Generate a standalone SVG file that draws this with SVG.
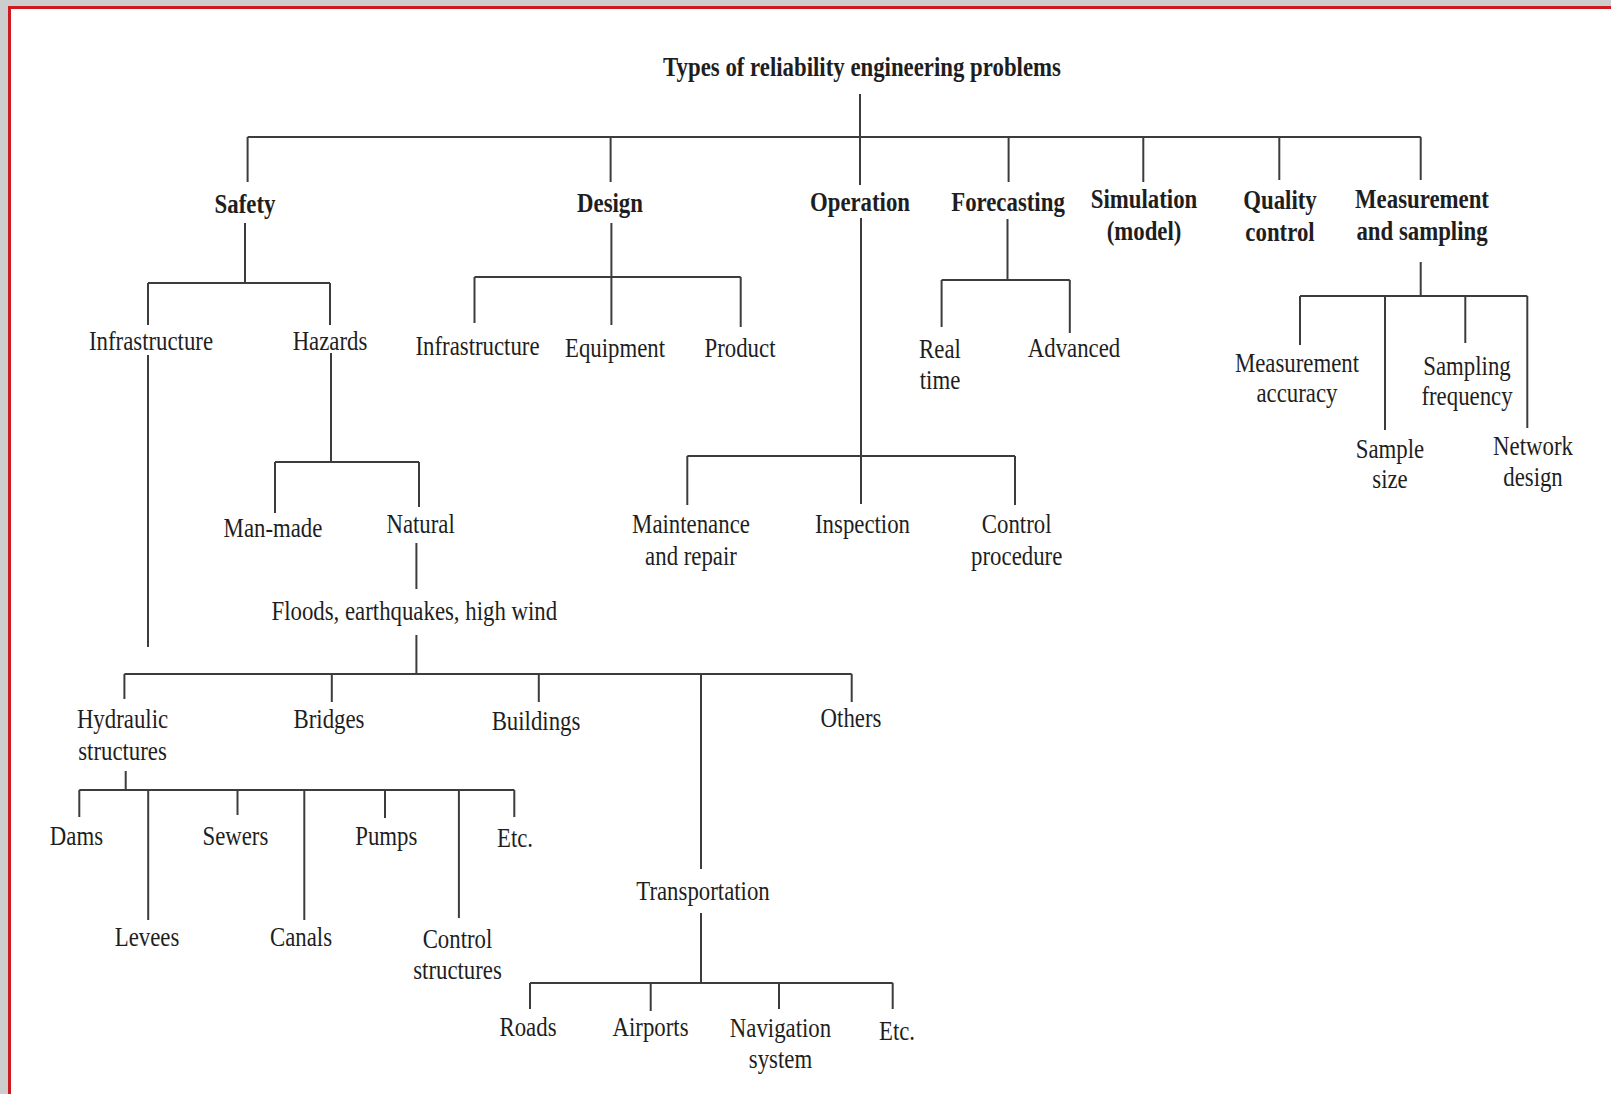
<svg xmlns="http://www.w3.org/2000/svg" width="1611" height="1094" viewBox="0 0 1611 1094">
  <style>
    .bg { fill: #cdcdcd; }
    .page { fill: #ffffff; }
    .frame { fill: none; stroke: #cc1a1f; stroke-width: 3; }
    .edge { fill: none; stroke: #3c3c3c; stroke-width: 2; stroke-linecap: butt; }
    text { font-family: "Liberation Serif", "Times New Roman", serif; font-size: 27px; fill: #1e1e1e; text-anchor: middle; }
    .b text { font-weight: bold; }
  </style>

  <!-- page background and red frame -->
  <rect class="bg" x="0" y="0" width="1611" height="1094"/>
  <rect class="page" x="11" y="9" width="1600" height="1085"/>
  <path class="frame" d="M9.5 1094 V7.5 H1611"/>

  <!-- connectors -->
  <g id="connectors" class="edge">
    <!-- root level -->
    <path d="M860 94 V185"/>
    <path d="M247.6 137 H1420.7"/>
    <path d="M247.6 137 V182"/>
    <path d="M610.6 137 V182"/>
    <path d="M1008.6 137 V182"/>
    <path d="M1143.3 137 V182"/>
    <path d="M1279.3 137 V180"/>
    <path d="M1420.7 137 V180"/>

    <!-- safety -->
    <path d="M245 223 V283"/>
    <path d="M148 283 H330"/>
    <path d="M148 283 V325"/>
    <path d="M330 283 V325"/>
    <path d="M148 355 V647"/>
    <path d="M331 353 V462"/>
    <path d="M275 462 H419"/>
    <path d="M275 462 V513"/>
    <path d="M419 462 V507"/>
    <path d="M416.4 543 V589"/>
    <path d="M416.4 635 V674"/>
    <path d="M124.4 674 H851.7"/>
    <path d="M124.4 674 V699"/>
    <path d="M331.8 674 V702"/>
    <path d="M538.8 674 V702"/>
    <path d="M701 674 V869"/>
    <path d="M851.7 674 V702"/>

    <!-- hydraulic structures -->
    <path d="M125.7 771 V790"/>
    <path d="M79.3 790 H514.3"/>
    <path d="M79.3 790 V817"/>
    <path d="M148.2 790 V920"/>
    <path d="M237.5 790 V815"/>
    <path d="M304.3 790 V920"/>
    <path d="M385 790 V818"/>
    <path d="M458.9 790 V918"/>
    <path d="M514.3 790 V817"/>

    <!-- transportation -->
    <path d="M701 913 V983"/>
    <path d="M530 983 H892.7"/>
    <path d="M530 983 V1009"/>
    <path d="M650.7 983 V1011"/>
    <path d="M779 983 V1009"/>
    <path d="M892.7 983 V1009"/>

    <!-- design -->
    <path d="M611.4 223 V325"/>
    <path d="M474.5 277 H740.7"/>
    <path d="M474.5 277 V323"/>
    <path d="M740.7 277 V327"/>

    <!-- operation -->
    <path d="M861 218 V504"/>
    <path d="M687.3 456 H1015"/>
    <path d="M687.3 456 V505"/>
    <path d="M1015 456 V505"/>

    <!-- forecasting -->
    <path d="M1007.5 219 V280"/>
    <path d="M941.6 280 H1069.8"/>
    <path d="M941.6 280 V327"/>
    <path d="M1069.8 280 V333"/>

    <!-- measurement and sampling -->
    <path d="M1420.7 262 V296"/>
    <path d="M1300 296 H1527.3"/>
    <path d="M1300 296 V345"/>
    <path d="M1385 296 V430"/>
    <path d="M1465.3 296 V343"/>
    <path d="M1527.3 296 V428"/>
  </g>

  <!-- top level -->
  <g id="root" class="b" transform="translate(862 76) scale(0.845 1)"><text>Types of reliability engineering problems</text></g>
  <g id="safety" class="b" transform="translate(245 213) scale(0.845 1)"><text>Safety</text></g>
  <g id="design" class="b" transform="translate(610 212) scale(0.845 1)"><text>Design</text></g>
  <g id="operation" class="b" transform="translate(860 211) scale(0.845 1)"><text>Operation</text></g>
  <g id="forecasting" class="b" transform="translate(1008 211) scale(0.845 1)"><text>Forecasting</text></g>
  <g id="simulation" class="b" transform="translate(1144 208) scale(0.845 1)"><text><tspan x="0">Simulation</tspan><tspan x="0" dy="32">(model)</tspan></text></g>
  <g id="quality" class="b" transform="translate(1280 209) scale(0.845 1)"><text><tspan x="0">Quality</tspan><tspan x="0" dy="32">control</tspan></text></g>
  <g id="measurement" class="b" transform="translate(1422 208) scale(0.845 1)"><text><tspan x="0">Measurement</tspan><tspan x="0" dy="32">and sampling</tspan></text></g>

  <!-- safety branch -->
  <g id="safety-infrastructure" transform="translate(151 350) scale(0.845 1)"><text>Infrastructure</text></g>
  <g id="hazards" transform="translate(330 350) scale(0.845 1)"><text>Hazards</text></g>
  <g id="man-made" transform="translate(273 537) scale(0.845 1)"><text>Man-made</text></g>
  <g id="natural" transform="translate(420.6 533) scale(0.845 1)"><text>Natural</text></g>
  <g id="floods" transform="translate(414.3 620) scale(0.845 1)"><text>Floods, earthquakes, high wind</text></g>
  <g id="hydraulic" transform="translate(122.5 728) scale(0.845 1)"><text><tspan x="0">Hydraulic</tspan><tspan x="0" dy="32">structures</tspan></text></g>
  <g id="bridges" transform="translate(329 728) scale(0.845 1)"><text>Bridges</text></g>
  <g id="buildings" transform="translate(536 730) scale(0.845 1)"><text>Buildings</text></g>
  <g id="others" transform="translate(851 727) scale(0.845 1)"><text>Others</text></g>
  <g id="dams" transform="translate(76.4 845) scale(0.845 1)"><text>Dams</text></g>
  <g id="sewers" transform="translate(235.4 845) scale(0.845 1)"><text>Sewers</text></g>
  <g id="pumps" transform="translate(386.3 845) scale(0.845 1)"><text>Pumps</text></g>
  <g id="hydraulic-etc" transform="translate(515 847) scale(0.845 1)"><text>Etc.</text></g>
  <g id="levees" transform="translate(147 946) scale(0.845 1)"><text>Levees</text></g>
  <g id="canals" transform="translate(301 946) scale(0.845 1)"><text>Canals</text></g>
  <g id="control-structures" transform="translate(457.5 948) scale(0.845 1)"><text><tspan x="0">Control</tspan><tspan x="0" dy="31">structures</tspan></text></g>
  <g id="transportation" transform="translate(703 900) scale(0.845 1)"><text>Transportation</text></g>
  <g id="roads" transform="translate(528 1036) scale(0.845 1)"><text>Roads</text></g>
  <g id="airports" transform="translate(650.5 1036) scale(0.845 1)"><text>Airports</text></g>
  <g id="navigation" transform="translate(780.5 1037) scale(0.845 1)"><text><tspan x="0">Navigation</tspan><tspan x="0" dy="31">system</tspan></text></g>
  <g id="transport-etc" transform="translate(897 1040) scale(0.845 1)"><text>Etc.</text></g>

  <!-- design branch -->
  <g id="design-infrastructure" transform="translate(477.5 355) scale(0.845 1)"><text>Infrastructure</text></g>
  <g id="equipment" transform="translate(615 357) scale(0.845 1)"><text>Equipment</text></g>
  <g id="product" transform="translate(740 357) scale(0.845 1)"><text>Product</text></g>

  <!-- operation branch -->
  <g id="maintenance" transform="translate(691 533) scale(0.845 1)"><text><tspan x="0">Maintenance</tspan><tspan x="0" dy="32">and repair</tspan></text></g>
  <g id="inspection" transform="translate(862.5 533) scale(0.845 1)"><text>Inspection</text></g>
  <g id="control-procedure" transform="translate(1016.7 533) scale(0.845 1)"><text><tspan x="0">Control</tspan><tspan x="0" dy="32">procedure</tspan></text></g>

  <!-- forecasting branch -->
  <g id="real-time" transform="translate(940 358) scale(0.845 1)"><text><tspan x="0">Real</tspan><tspan x="0" dy="31">time</tspan></text></g>
  <g id="advanced" transform="translate(1074 357) scale(0.845 1)"><text>Advanced</text></g>

  <!-- measurement and sampling branch -->
  <g id="measurement-accuracy" transform="translate(1297 372) scale(0.845 1)"><text><tspan x="0">Measurement</tspan><tspan x="0" dy="30">accuracy</tspan></text></g>
  <g id="sampling-frequency" transform="translate(1467 375) scale(0.845 1)"><text><tspan x="0">Sampling</tspan><tspan x="0" dy="30">frequency</tspan></text></g>
  <g id="sample-size" transform="translate(1390 458) scale(0.845 1)"><text><tspan x="0">Sample</tspan><tspan x="0" dy="30">size</tspan></text></g>
  <g id="network-design" transform="translate(1533 455) scale(0.845 1)"><text><tspan x="0">Network</tspan><tspan x="0" dy="31">design</tspan></text></g>
</svg>
